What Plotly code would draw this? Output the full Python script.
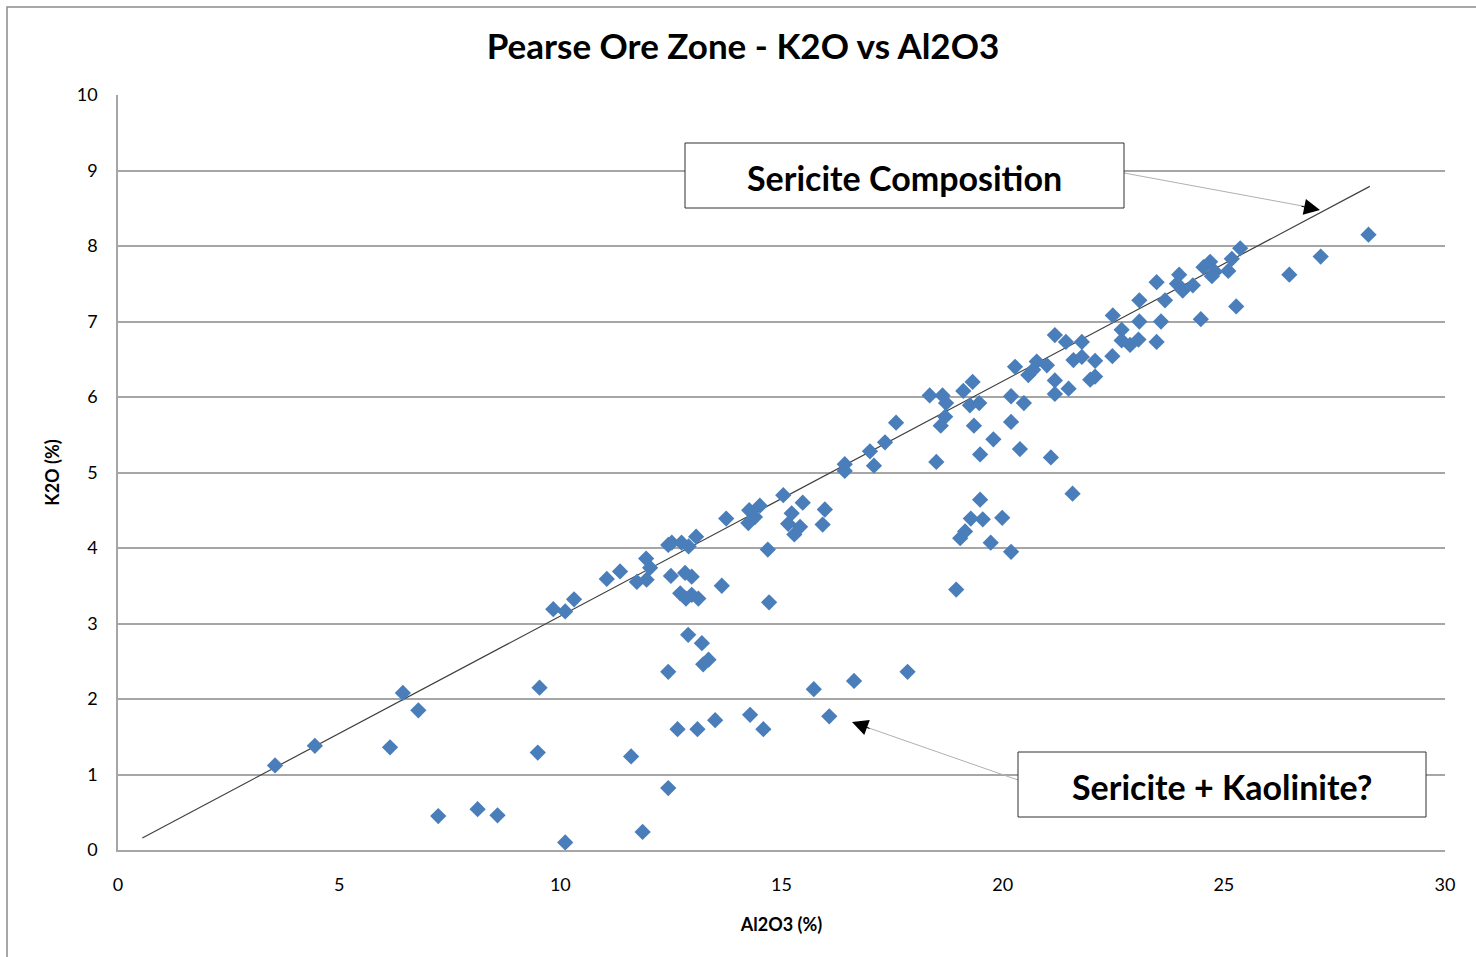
import plotly.graph_objects as go

# Data (Al2O3 %, K2O %)
al2o3 = [3.55, 4.45, 6.44, 6.79, 6.15, 7.24, 8.13, 8.58, 9.53, 9.49,
         9.84, 10.11, 10.31, 10.11, 11.05, 11.35, 11.60, 11.73, 11.95, 11.94,
         12.03, 11.86, 12.44, 12.44, 12.44, 12.52, 12.74, 12.90, 13.07, 12.50,
         12.82, 12.97, 12.71, 12.84, 12.97, 13.12, 12.89, 13.20, 13.35, 13.23,
         12.65, 13.10, 13.50, 13.65, 13.75, 14.29, 14.59, 14.25, 14.27, 14.40,
         14.51, 14.69, 14.72, 15.04, 15.15, 15.23, 15.29, 15.42, 15.48, 15.73,
         15.93, 15.98, 16.08, 16.43, 16.43, 16.64, 17.00, 17.09, 17.34, 17.59,
         17.85, 18.35, 18.64, 18.72, 18.70, 18.60, 18.50, 19.11, 19.32, 19.26,
         19.47, 19.35, 19.79, 19.49, 20.19, 20.48, 20.19, 20.39, 20.28, 20.58,
         20.69, 20.77, 21.00, 21.18, 21.18, 21.49, 21.09, 21.58, 21.60, 21.79,
         22.09, 21.98, 22.09, 22.48, 19.49, 19.28, 19.55, 19.99, 19.15, 19.04,
         19.73, 20.19, 18.95, 28.27, 27.19, 26.48, 25.37, 25.18, 25.28, 25.10,
         24.69, 24.54, 24.73, 24.80, 24.48, 23.99, 23.94, 24.07, 24.30, 23.48,
         23.67, 23.58, 23.48, 23.09, 23.09, 23.07, 22.88, 22.69, 22.69, 22.49,
         21.79, 21.43, 21.18]
k2o = [1.12, 1.38, 2.08, 1.85, 1.36, 0.45, 0.54, 0.46, 2.15, 1.29,
       3.19, 3.16, 3.32, 0.10, 3.59, 3.69, 1.24, 3.55, 3.58, 3.86,
       3.74, 0.24, 0.82, 2.36, 4.04, 4.07, 4.07, 4.02, 4.15, 3.63,
       3.67, 3.62, 3.40, 3.33, 3.38, 3.33, 2.85, 2.74, 2.52, 2.46,
       1.60, 1.60, 1.72, 3.50, 4.39, 1.79, 1.60, 4.33, 4.50, 4.41,
       4.56, 3.98, 3.28, 4.70, 4.32, 4.46, 4.18, 4.28, 4.60, 2.13,
       4.31, 4.51, 1.77, 5.11, 5.02, 2.24, 5.28, 5.09, 5.40, 5.66,
       2.36, 6.02, 6.02, 5.92, 5.74, 5.62, 5.14, 6.08, 6.20, 5.89,
       5.92, 5.62, 5.44, 5.24, 6.01, 5.92, 5.67, 5.31, 6.40, 6.29,
       6.36, 6.47, 6.42, 6.22, 6.04, 6.11, 5.20, 4.72, 6.49, 6.53,
       6.48, 6.23, 6.27, 6.54, 4.64, 4.39, 4.38, 4.40, 4.22, 4.13,
       4.07, 3.95, 3.45, 8.15, 7.86, 7.62, 7.97, 7.83, 7.20, 7.67,
       7.79, 7.72, 7.60, 7.66, 7.03, 7.62, 7.50, 7.41, 7.48, 7.52,
       7.28, 7.00, 6.73, 7.28, 7.00, 6.76, 6.69, 6.89, 6.75, 7.08,
       6.73, 6.73, 6.82]

# Sericite composition reference line
line_x = [0.55, 28.3]
line_y = [0.16, 8.79]

title_text = "Pearse Ore Zone - K2O vs Al2O3"
x_title = "Al2O3 (%)"
y_title = "K2O (%)"
label_sericite = "Sericite Composition"
label_kaolinite = "Sericite + Kaolinite?"

FONT = "Lato"

fig = go.Figure()
fig.add_trace(go.Scatter(
    x=line_x, y=line_y, mode="lines",
    line=dict(color="#404040", width=1.2), hoverinfo="skip", showlegend=False))
fig.add_trace(go.Scatter(
    x=al2o3, y=k2o, mode="markers",
    marker=dict(symbol="diamond", size=12.5, color="#4A7EBB",
                line=dict(width=0)),
    showlegend=False))

W, H = 1476, 957
L, R, T, B = 118, 31, 95, 107
pw, ph = W - L - R, H - T - B


def px(xp):
    return (xp - L) / pw


def py(yp):
    return (H - B - yp) / ph


shapes = []
# Outer chart border
shapes.append(dict(type="rect", xref="paper", yref="paper",
                   x0=px(7), x1=px(1490), y0=py(970), y1=py(7),
                   line=dict(color="#8c8c8c", width=1.5), fillcolor="rgba(0,0,0,0)",
                   layer="below"))
# Leader lines (thin gray)
shapes.append(dict(type="line", xref="paper", yref="paper",
                   x0=px(1124), y0=py(173), x1=px(1308), y1=py(207),
                   line=dict(color="#b0b0b0", width=1)))
shapes.append(dict(type="line", xref="paper", yref="paper",
                   x0=px(1018), y0=py(780), x1=px(866), y1=py(727),
                   line=dict(color="#b0b0b0", width=1)))
# Text boxes
shapes.append(dict(type="rect", xref="paper", yref="paper",
                   x0=px(685), x1=px(1124), y0=py(208), y1=py(143),
                   line=dict(color="#303030", width=1), fillcolor="white"))
shapes.append(dict(type="rect", xref="paper", yref="paper",
                   x0=px(1018), x1=px(1426), y0=py(817), y1=py(752),
                   line=dict(color="#303030", width=1), fillcolor="white"))

annotations = [
    dict(xref="paper", yref="paper", x=px(904), y=py(177), text="<b>" + label_sericite + "</b>",
         showarrow=False, font=dict(family=FONT, size=34, color="black"),
         xanchor="center", yanchor="middle"),
    dict(xref="paper", yref="paper", x=px(1222), y=py(786), text="<b>" + label_kaolinite + "</b>",
         showarrow=False, font=dict(family=FONT, size=34, color="black"),
         xanchor="center", yanchor="middle"),
    # arrowheads
    dict(xref="paper", yref="paper", x=px(1320), y=py(210), ax=-20, ay=-4,
         axref="pixel", ayref="pixel", text="", showarrow=True,
         arrowhead=2, arrowsize=3.2, arrowwidth=1, arrowcolor="black"),
    dict(xref="paper", yref="paper", x=px(852), y=py(722), ax=19, ay=7,
         axref="pixel", ayref="pixel", text="", showarrow=True,
         arrowhead=2, arrowsize=3.2, arrowwidth=1, arrowcolor="black"),
]

fig.update_layout(
    width=W, height=H,
    margin=dict(l=L, r=R, t=T, b=B),
    paper_bgcolor="white", plot_bgcolor="white",
    title=dict(text="<b>" + title_text + "</b>", x=743 / W, xanchor="center",
               y=1 - 47 / H, yanchor="middle",
               font=dict(family=FONT, size=35, color="black")),
    xaxis=dict(range=[0, 30], tickvals=[0, 5, 10, 15, 20, 25, 30],
               showgrid=False, zeroline=False,
               showline=True, linecolor="#a6a6a6", linewidth=1.5,
               ticks="", ticklabelstandoff=18,
               tickfont=dict(family=FONT, size=18, color="black"),
               title=dict(text="<b>" + x_title + "</b>", standoff=24,
                          font=dict(family=FONT, size=18, color="black"))),
    yaxis=dict(range=[0, 10], dtick=1,
               showgrid=True, gridcolor="#a6a6a6", gridwidth=1.5,
               zeroline=False, showline=True, linecolor="#a6a6a6", linewidth=1.5,
               ticks="outside", ticklen=0, ticklabelstandoff=15,
               tickfont=dict(family=FONT, size=18, color="black"),
               title=dict(text="<b>" + y_title + "</b>", standoff=12,
                          font=dict(family=FONT, size=18, color="black"))),
    shapes=shapes,
    annotations=annotations,
)
fig.write_html("out.html", config={"displayModeBar": False},
               post_script="document.body.style.margin='0';")
